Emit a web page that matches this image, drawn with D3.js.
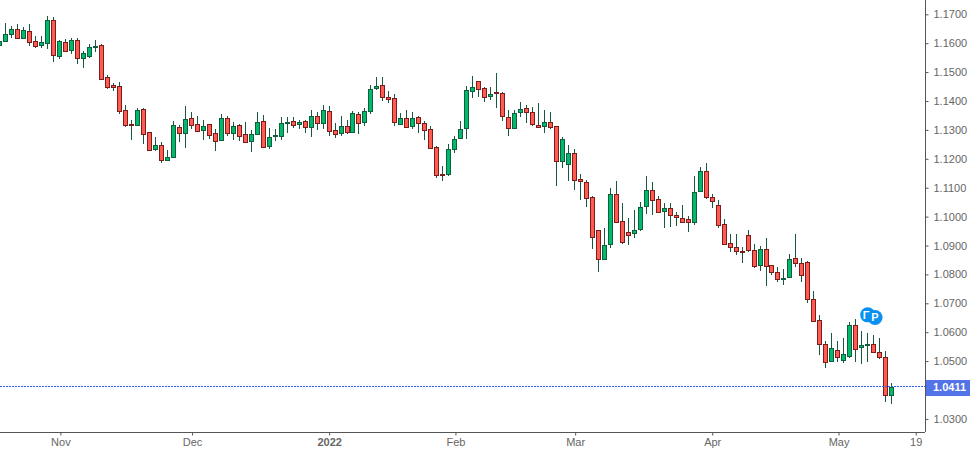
<!DOCTYPE html>
<html><head><meta charset="utf-8">
<script src="https://cdn.jsdelivr.net/npm/d3@7"></script>
<style>html,body{margin:0;padding:0;background:#fff;overflow:hidden}svg{display:block}text{font-family:"Liberation Sans",Arial,sans-serif}</style>
</head><body><svg id="c" width="970" height="450"></svg>
<script>
const opens=[1.1595,1.1609,1.1633,1.1648,1.1619,1.1641,1.1607,1.1595,1.1602,1.1679,1.1557,1.1603,1.1578,1.1610,1.1550,1.1554,1.1589,1.1593,1.1482,1.1454,1.1451,1.1368,1.1320,1.1318,1.1371,1.1292,1.1235,1.1247,1.1197,1.1207,1.1309,1.1291,1.1340,1.1319,1.1301,1.1319,1.1288,1.1266,1.1340,1.1291,1.1316,
1.1285,1.1261,1.1285,1.1330,1.1243,1.1278,1.1278,1.1326,1.1330,1.1319,1.1330,1.1309,1.1347,1.1323,1.1364,1.1299,1.1288,1.1312,1.1292,1.1354,1.1326,1.1364,1.1444,1.1454,1.1413,1.1409,1.1319,1.1340,1.1312,1.1344,1.1323,1.1302,1.1240,1.1146,1.1146,1.1233,1.1271,1.1306,
1.1436,1.1468,1.1444,1.1416,1.1430,1.1427,1.1344,1.1306,1.1361,1.1375,1.1361,1.1316,1.1312,1.1326,1.1312,1.1191,1.1181,1.1219,1.1129,1.1119,1.1067,1.0953,1.0855,
1.0904,1.1077,1.0984,1.0946,1.0942,1.0956,1.1036,1.1091,1.1060,1.1018,1.1029,1.1004,1.0994,1.0991,1.0980,1.1087,1.1157,1.1067,1.1039,1.0973,1.0907,1.0894,1.0880,
1.0935,1.0883,1.0831,1.0887,1.0831,1.0807,1.0783,1.0790,1.0856,1.0838,1.0842,1.0714,1.0641,1.0558,1.0499,1.0537,1.0503,1.0517,1.0624,1.0548,1.0555,1.0558,1.0530,1.0513,1.0382];
const highs=[1.1608,1.1670,1.1660,1.1667,1.1655,1.1667,1.1625,1.1625,1.1694,1.1690,1.1611,1.1615,1.1618,1.1618,1.1573,1.1597,1.1611,1.1597,1.1490,1.1462,1.1466,1.1386,1.1334,1.1376,1.1376,1.1292,1.1276,1.1258,1.1231,1.1331,1.1316,1.1383,1.1362,1.1348,1.1334,1.1320,1.1303,1.1355,1.1348,1.1327,1.1321,
1.1326,1.1299,1.1362,1.1352,1.1306,1.1302,1.1345,1.1345,1.1345,1.1333,1.1333,1.1368,1.1362,1.1386,1.1382,1.1323,1.1348,1.1333,1.1364,1.1361,1.1375,1.1455,1.1483,1.1483,1.1435,1.1424,1.1357,1.1368,1.1362,1.1348,1.1330,1.1314,1.1244,1.1174,1.1251,1.1278,1.1331,1.1451,
1.1487,1.1468,1.1447,1.1447,1.1497,1.1430,1.1368,1.1368,1.1397,1.1385,1.1379,1.1393,1.1368,1.1362,1.1312,1.1274,1.1248,1.1234,1.1147,1.1126,1.1071,1.0953,1.0961,
1.1099,1.1123,1.1047,1.0995,1.1023,1.1051,1.1140,1.1120,1.1071,1.1047,1.1047,1.1016,1.1040,1.1002,1.1140,1.1172,1.1185,1.1078,1.1056,1.0992,1.0940,1.0940,1.0895,
1.0954,1.0905,1.0898,1.0926,1.0831,1.0824,1.0819,1.0871,1.0940,1.0856,1.0845,1.0743,1.0660,1.0568,1.0597,1.0568,1.0580,1.0634,1.0646,1.0604,1.0597,1.0590,1.0580,1.0534,1.0424];
const lows=[1.1593,1.1609,1.1618,1.1619,1.1619,1.1590,1.1583,1.1583,1.1580,1.1535,1.1545,1.1574,1.1563,1.1528,1.1514,1.1549,1.1570,1.1477,1.1441,1.1435,1.1355,1.1310,1.1265,1.1314,1.1251,1.1232,1.1227,1.1185,1.1197,1.1207,1.1257,1.1237,1.1303,1.1297,1.1265,1.1269,1.1227,1.1266,1.1279,1.1265,1.1262,
1.1257,1.1225,1.1285,1.1240,1.1235,1.1262,1.1265,1.1289,1.1306,1.1303,1.1289,1.1277,1.1300,1.1303,1.1279,1.1272,1.1280,1.1286,1.1292,1.1286,1.1314,1.1355,1.1437,1.1401,1.1394,1.1315,1.1319,1.1306,1.1303,1.1291,1.1265,1.1236,1.1135,1.1124,1.1142,1.1221,1.1271,1.1269,
1.1410,1.1414,1.1397,1.1404,1.1376,1.1331,1.1279,1.1306,1.1345,1.1324,1.1314,1.1309,1.1289,1.1303,1.1106,1.1168,1.1123,1.1092,1.1058,1.1033,1.0888,1.0808,1.0850,
1.0891,1.0978,1.0906,1.0903,1.0927,1.0951,1.1009,1.1006,1.1015,1.0962,1.0964,1.0967,1.0980,1.0947,1.0972,1.1087,1.1062,1.1030,1.0962,1.0904,1.0878,1.0867,1.0841,
1.0876,1.0823,1.0813,1.0761,1.0799,1.0774,1.0764,1.0790,1.0827,1.0775,1.0700,1.0638,1.0520,1.0477,1.0496,1.0496,1.0495,1.0510,1.0496,1.0489,1.0497,1.0530,1.0506,1.0360,1.0353];
const closes=[1.1606,1.1631,1.1648,1.1619,1.1645,1.1605,1.1592,1.1603,1.1679,1.1560,1.1607,1.1574,1.1610,1.1550,1.1565,1.1586,1.1590,1.1477,1.1450,1.1450,1.1367,1.1318,1.1318,1.1368,1.1287,1.1232,1.1247,1.1197,1.1205,1.1316,1.1291,1.1337,1.1318,1.1297,1.1312,1.1284,1.1263,1.1340,1.1291,1.1312,1.1280,
1.1257,1.1285,1.1326,1.1240,1.1274,1.1281,1.1323,1.1327,1.1316,1.1326,1.1309,1.1347,1.1323,1.1368,1.1295,1.1285,1.1312,1.1292,1.1357,1.1323,1.1364,1.1440,1.1451,1.1413,1.1406,1.1326,1.1340,1.1309,1.1340,1.1323,1.1299,1.1236,1.1143,1.1143,1.1233,1.1267,1.1302,1.1437,
1.1447,1.1440,1.1413,1.1423,1.1427,1.1347,1.1306,1.1357,1.1371,1.1361,1.1319,1.1309,1.1326,1.1309,1.1191,1.1267,1.1219,1.1126,1.1122,1.1063,1.0928,1.0852,1.0901,
1.1077,1.0981,1.0911,1.0937,1.0952,1.1032,1.1091,1.1056,1.1015,1.1029,1.1004,1.0997,1.0980,1.0980,1.1084,1.1157,1.1067,1.1053,1.0970,1.0904,1.0894,1.0880,1.0876,
1.0883,1.0828,1.0887,1.0828,1.0807,1.0783,1.0786,1.0852,1.0838,1.0797,1.0714,1.0638,1.0558,1.0496,1.0544,1.0513,1.0523,1.0624,1.0541,1.0555,1.0558,1.0530,1.0513,1.0382,1.0411];
const priceTicks=[1.17,1.16,1.15,1.14,1.13,1.12,1.11,1.10,1.09,1.08,1.07,1.06,1.05,1.03];
const timeLabels=["Nov","Dec","2022","Feb","Mar","Apr","May","19"];
const timeSlots=[10.2,32.2,55.1,76.2,96.2,119.1,140.2,153.1];
const lastPrice=1.0411;

const svg=d3.select("#c");
const W=970,H=450,axisX=925,axisY=432;
const x=d3.scaleLinear().domain([0,149]).range([-0.67,891.2]);
const y=d3.scaleLinear().domain([1.03,1.17]).range([418.9,14.3]);
const sharp=v=>Math.round(v)+0.5;
const candles=d3.range(opens.length).map(i=>({i,o:opens[i],h:highs[i],l:lows[i],c:closes[i]}));
const plot=svg.append("g");
const g=plot.selectAll("g").data(candles).join("g");
g.append("line").attr("x1",d=>sharp(x(d.i))).attr("x2",d=>sharp(x(d.i)))
 .attr("y1",d=>Math.round(y(d.h))).attr("y2",d=>Math.round(y(d.l))).attr("stroke","#17593f").attr("stroke-width",1);
g.append("rect").attr("x",d=>sharp(x(d.i))-2).attr("width",4)
 .attr("y",d=>sharp(y(Math.max(d.o,d.c))))
 .attr("height",d=>Math.max(1,sharp(y(Math.min(d.o,d.c)))-sharp(y(Math.max(d.o,d.c)))))
 .attr("fill",d=>d.c>=d.o?"#00b96b":"#ff5b50")
 .attr("stroke",d=>d.c>=d.o?"#0f5f3f":"#7a1c1c").attr("stroke-width",1);

plot.append("line").attr("x1",0).attr("x2",axisX).attr("y1",sharp(y(lastPrice))-1).attr("y2",sharp(y(lastPrice))-1)
 .attr("stroke","#2f5ff0").attr("stroke-width",1).attr("stroke-dasharray","2,1");

const yAxis=d3.axisRight(y).tickValues(priceTicks).tickFormat(d3.format(".4f")).tickSize(3).tickPadding(5);
const ya=svg.append("g").attr("transform",`translate(${axisX+0.5},0)`).call(yAxis);
ya.select(".domain").remove();
svg.append("line").attr("x1",axisX+0.5).attr("x2",axisX+0.5).attr("y1",0).attr("y2",axisY).attr("stroke","#555");
ya.selectAll("line").attr("stroke","#555");
ya.selectAll("text").attr("fill","#666").style("font-size","11px").style("font-family",'"Liberation Sans",Arial,sans-serif');

const xAxis=d3.axisBottom(x).tickValues(timeSlots).tickFormat((d,i)=>timeLabels[i]).tickSize(3).tickPadding(3);
const xa=svg.append("g").attr("transform",`translate(0,${axisY+0.5})`).call(xAxis);
xa.select(".domain").remove();
svg.append("line").attr("x1",0).attr("x2",axisX).attr("y1",axisY+0.5).attr("y2",axisY+0.5).attr("stroke","#555");
xa.selectAll("line").attr("stroke","#555");
xa.selectAll("text").attr("fill","#666").style("font-size","11px").style("font-family",'"Liberation Sans",Arial,sans-serif')
  .style("font-weight",(d,i)=>timeLabels[i]==="2022"?"bold":"normal");

svg.append("rect").attr("x",axisX+1).attr("y",Math.round(y(lastPrice))-7).attr("width",W-axisX-1).attr("height",16).attr("fill","#5373e8");
svg.append("text").attr("x",axisX+8).attr("y",y(lastPrice)+4.5).attr("fill","#fff").attr("font-size",11).attr("font-weight","bold").text(lastPrice.toFixed(4));

const marks=[{k:"Γ",p:1.0660,i:145.07,dx:-1.5},{k:"P",p:1.0651,i:146.3,dx:0}];
const badge=svg.append("g").selectAll("g").data(marks).join("g").attr("transform",d=>`translate(${x(d.i)},${y(d.p)})`);
badge.append("circle").attr("r",7.5).attr("fill","#0a90f0");
badge.append("text").attr("text-anchor","middle").attr("dy",3.8).attr("dx",d=>d.dx).attr("fill","#fff").attr("font-size",11).attr("font-weight","bold").text(d=>d.k);
</script></body></html>
